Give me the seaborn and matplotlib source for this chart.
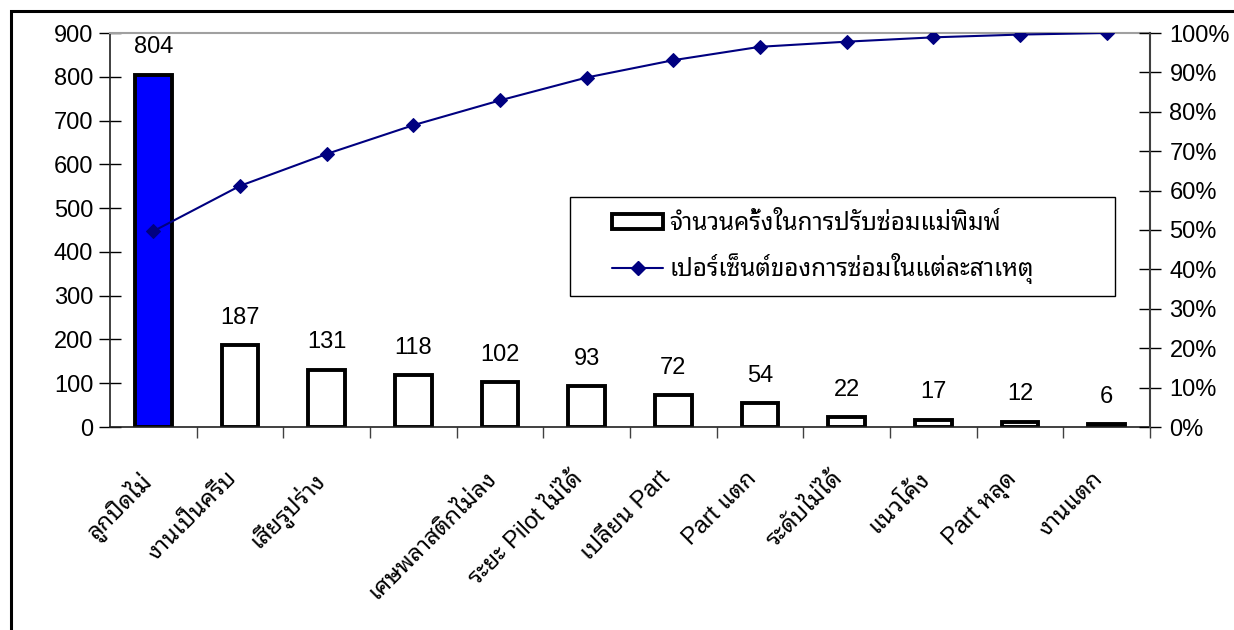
import matplotlib
matplotlib.use("Agg")
import matplotlib.pyplot as plt
from matplotlib.patches import Patch, Rectangle
from matplotlib.lines import Line2D
from matplotlib.ticker import FuncFormatter, FixedLocator
import seaborn as sns
import pandas as pd

# Repair causes and how often each one happened
causes = ["C01", "C02", "C03", "C04", "C05", "C06",
          "C07", "C08", "C09", "C10", "C11", "C12"]
cause_labels = ["ลูกปิดไม่", "งานเป็นครีบ", "เสียรูปร่าง", "",
                "เศษพลาสติกไม่ลง", "ระยะ Pilot ไม่ได้", "เปลี่ยน Part", "Part แตก",
                "ระดับไม่ได้", "แนวโค้ง", "Part หลุด", "งานแตก"]
repair_counts = [804, 187, 131, 118, 102, 93, 72, 54, 22, 17, 12, 6]
cumulative_pct = [49.7, 61.2, 69.3, 76.6, 82.9, 88.7, 93.1, 96.5, 97.8, 98.9, 99.6, 100.0]
count_ticks = [0, 100, 200, 300, 400, 500, 600, 700, 800, 900]
pct_ticks = [0, 10, 20, 30, 40, 50, 60, 70, 80, 90, 100]

bar_legend = "จำนวนครั้งในการปรับซ่อมแม่พิมพ์"
line_legend = "เปอร์เซ็นต์ของการซ่อมในแต่ละสาเหตุ"

sns.set_theme(style="white")
plt.rcParams["font.family"] = ["Liberation Sans", "Noto Sans Thai Looped", "DejaVu Sans"]
plt.rcParams["text.color"] = "black"
plt.rcParams["xtick.color"] = "black"
plt.rcParams["ytick.color"] = "black"

df = pd.DataFrame({"cause": causes, "count": repair_counts, "pct": cumulative_pct})
bar_colors = ["#0000FF"] + ["#FFFFFF"] * (len(causes) - 1)

W, H = 1234, 630
fig = plt.figure(figsize=(W / 100, H / 100), dpi=100)
fig.patch.set_facecolor("white")
ax = fig.add_axes([110 / W, 1 - 427 / H, 1040 / W, 394 / H])

sns.barplot(data=df, x="cause", y="count", hue="cause", palette=bar_colors,
            legend=False, width=0.42, edgecolor="black", linewidth=2.8,
            saturation=1, ax=ax)

for i, v in enumerate(repair_counts):
    ax.text(i, v + 38, str(v), ha="center", va="bottom", fontsize=17,
            color="black")

ax.set_xlim(-0.5, len(causes) - 0.5)
ax.set_ylim(0, 900)
ax.yaxis.set_major_locator(FixedLocator(count_ticks))
ax.set_ylabel("")
ax.set_xlabel("")
# category names sit slightly left of each bar, ending near its centre
ax.set_xticks([i - 0.17 for i in range(len(causes))])
ax.set_xticklabels(cause_labels, rotation=45, ha="right", rotation_mode="anchor",
                   fontsize=17, color="black")
ax.xaxis.set_minor_locator(FixedLocator([i + 0.5 for i in range(len(causes))]))
ax.tick_params(axis="x", which="major", length=0, pad=29)
ax.tick_params(axis="x", which="minor", direction="out", length=8, width=1,
               color="#404040", bottom=True)
ax.tick_params(axis="y", direction="inout", length=16, width=1, color="black",
               labelsize=17, labelcolor="black", pad=4, left=True)
for side in ["left", "bottom"]:
    ax.spines[side].set_color("#202020")
    ax.spines[side].set_linewidth(1.2)
ax.spines["top"].set_color("#a0a0a0")
ax.spines["top"].set_linewidth(1.5)
ax.spines["right"].set_visible(False)
ax.grid(False)

ax2 = ax.twinx()
sns.lineplot(x=list(range(len(causes))), y=cumulative_pct, ax=ax2, color="#000080",
             linewidth=1.5, marker="D", markersize=7, markeredgecolor="#000080",
             markerfacecolor="#000080")
ax2.set_ylim(0, 100)
ax2.yaxis.set_major_locator(FixedLocator(pct_ticks))
ax2.yaxis.set_major_formatter(FuncFormatter(lambda v, p: f"{v:.0f}%"))
ax2.tick_params(axis="y", direction="inout", length=16, width=1, color="black",
                labelsize=17, labelcolor="black", pad=6, right=True)
ax2.spines["right"].set_color("#404040")
ax2.spines["right"].set_linewidth(1.5)
for side in ["left", "top", "bottom"]:
    ax2.spines[side].set_visible(False)
ax2.set_ylabel("")
ax2.grid(False)

# Legend box, drawn separately so it can be wider than its entries
ax2.add_patch(Rectangle(((570 - 110) / 1040, (427 - 296) / 394),
                        545 / 1040, 99 / 394, transform=ax2.transAxes,
                        facecolor="white", edgecolor="black", linewidth=1.0,
                        zorder=5))
handles = [
    Patch(facecolor="white", edgecolor="black", linewidth=2.8),
    Line2D([], [], color="#000080", linewidth=1.5, marker="D", markersize=7,
           markerfacecolor="#000080", markeredgecolor="#000080"),
]
leg = ax2.legend(handles, [bar_legend, line_legend], loc="upper left",
                 bbox_to_anchor=((612 - 110) / 1040, (427 - 212) / 394),
                 fontsize=17.5, frameon=False,
                 handlelength=2.1, handleheight=0.55, handletextpad=0.25,
                 borderpad=0, labelspacing=0.75, borderaxespad=0)
leg.set_zorder(6)

# Chart-area border along the top and left edges
fig.patches.append(Rectangle((11 / W, -0.1), 1.2, 1.1 - 11 / H,
                             transform=fig.transFigure, fill=False,
                             edgecolor="black", linewidth=2.2, zorder=10))

fig.savefig("out.png", dpi=100, facecolor="white")
